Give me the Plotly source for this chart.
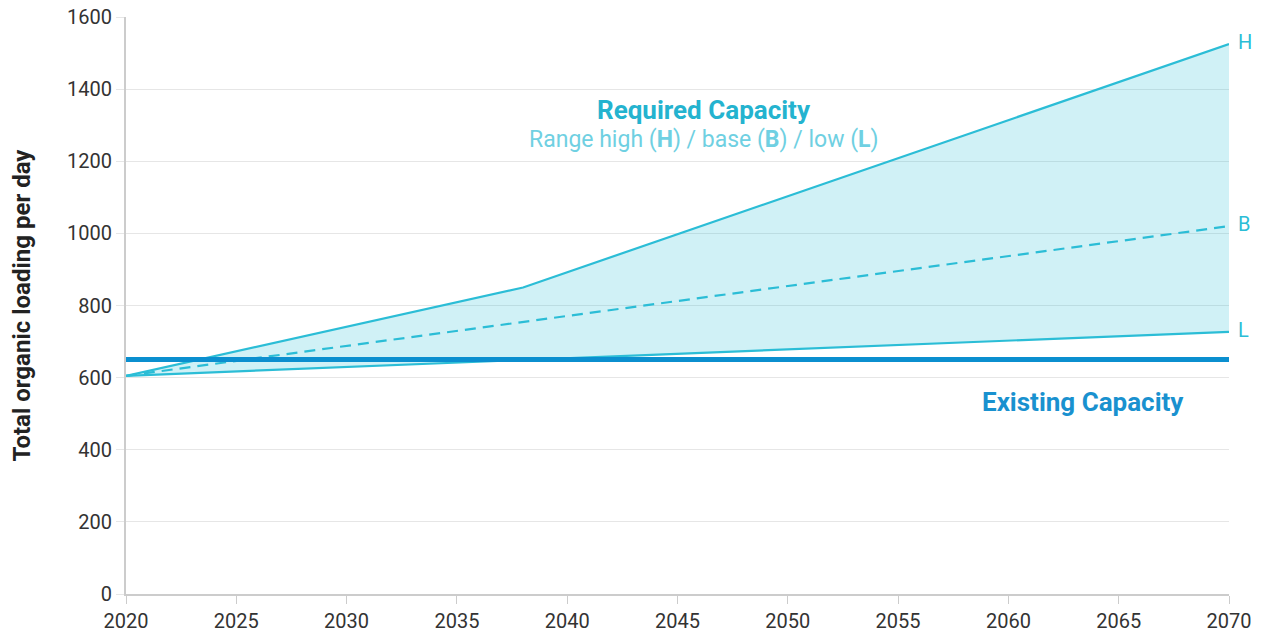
import plotly.graph_objects as go

years = [2020, 2038, 2070]
high = [605, 850, 1525]
base_years = [2020, 2070]
base = [605, 1020]
low_years = [2020, 2070]
low = [605, 727]
existing_years = [2020, 2070]
existing = [650, 650]

CYAN = "#2bbdd6"
FILL = "rgba(43,189,214,0.22)"
BLUE = "#0b8fcf"
FONT = "Roboto"

fig = go.Figure()
fig.add_trace(go.Scatter(x=low_years, y=low, mode="lines",
                         line=dict(color=CYAN, width=2.2), showlegend=False))
fig.add_trace(go.Scatter(x=years, y=high, mode="lines", fill="tonexty",
                         fillcolor=FILL, line=dict(color=CYAN, width=2.2), showlegend=False))
fig.add_trace(go.Scatter(x=base_years, y=base, mode="lines",
                         line=dict(color=CYAN, width=2.2, dash="11px,7px"), showlegend=False))
fig.add_trace(go.Scatter(x=existing_years, y=existing, mode="lines",
                         line=dict(color=BLUE, width=5), showlegend=False))

for yv, lab in [(high[-1], "H"), (base[-1], "B"), (low[-1], "L")]:
    fig.add_annotation(x=2070, y=yv, text=lab, showarrow=False, xanchor="left",
                       xshift=7, yshift=2, font=dict(family=FONT, size=20, color=CYAN))

fig.add_annotation(x=2046.2, y=1342, text="<b>Required Capacity</b>", showarrow=False,
                   font=dict(family=FONT, size=26, color="#24b3cf"))
fig.add_annotation(x=2046.2, y=1259,
                   text="Range high (<b>H</b>) / base (<b>B</b>) / low (<b>L</b>)",
                   showarrow=False, font=dict(family=FONT, size=23, color="#6fd0e2"))
fig.add_annotation(x=2063.4, y=532, text="<b>Existing Capacity</b>", showarrow=False,
                   font=dict(family=FONT, size=26, color="#1991cf"))

fig.update_layout(
    width=1264, height=634, autosize=False,
    margin=dict(l=126, r=35, t=17, b=40, autoexpand=False),
    plot_bgcolor="white", paper_bgcolor="white",
    font=dict(family=FONT, size=20, color="#333333"),
    xaxis=dict(range=[2020, 2070], tickvals=list(range(2020, 2071, 5)),
               showgrid=False, showline=True, linecolor="#cccccc", linewidth=2,
               ticks="outside", tickcolor="#cccccc", ticklen=8, tickwidth=1,
               zeroline=False, automargin=False, ticklabeloverflow="allow",
               tickfont=dict(size=20, color="#333333")),
    yaxis=dict(range=[0, 1600], tickvals=list(range(0, 1601, 200)),
               showgrid=True, gridcolor="#e6e6e6", gridwidth=1,
               showline=True, linecolor="#cccccc", linewidth=2,
               ticks="outside", tickcolor="#e6e6e6", ticklen=8,
               zeroline=False, automargin=False, ticklabeloverflow="allow",
               tickfont=dict(size=20, color="#333333"),
               title=dict(text="<b>Total organic loading per day</b>",
                          font=dict(size=24, color="#222222"), standoff=30)),
)

fig.write_html("out.html", config={"displayModeBar": False},
               post_script="document.body.style.margin='0px';document.body.style.overflow='hidden';")
